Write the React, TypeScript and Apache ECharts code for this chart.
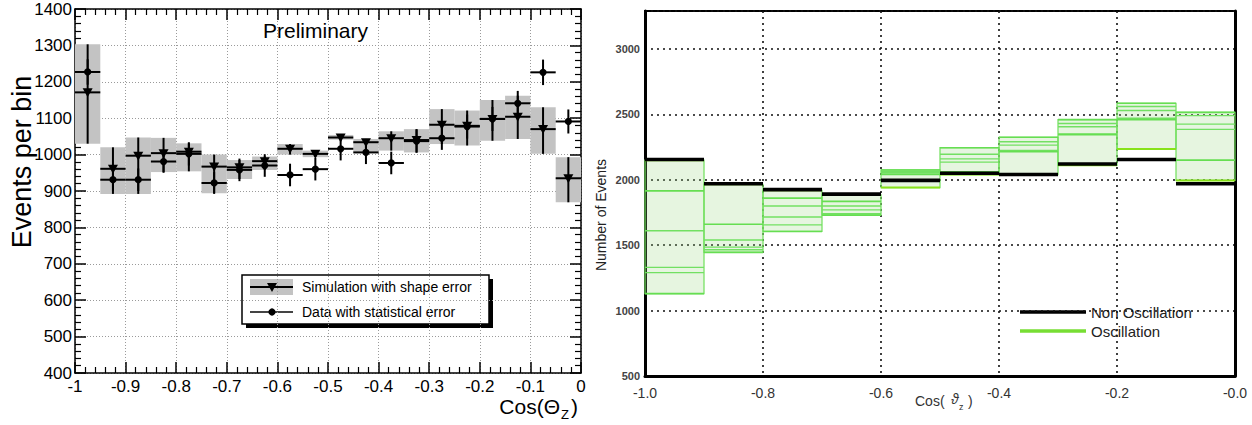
import React, { useEffect, useRef } from 'react';
import * as echarts from 'echarts';

const FONT = '"Liberation Sans", Arial, Helvetica, sans-serif';

// ---------------- Left panel data ----------------
const LEFT_BIN_START = [-1.0, -0.95, -0.9, -0.85, -0.8, -0.75, -0.7, -0.65, -0.6, -0.55, -0.5, -0.45, -0.4, -0.35, -0.3, -0.25, -0.2, -0.15, -0.1, -0.05];
const LEFT_BIN_WIDTH = 0.05;
const SIM_VALUE = [1171, 961, 997, 1004, 1008, 967, 965, 982, 1016, 1002, 1047, 1034, 1045, 1040, 1082, 1079, 1098, 1104, 1070, 935];
const SIM_LOW = [1030, 892, 892, 952, 954, 894, 933, 958, 1000, 993, 1041, 1006, 1011, 1006, 1029, 1025, 1038, 1043, 1002, 869];
const SIM_HIGH = [1303, 1020, 1047, 1046, 1031, 1000, 985, 995, 1029, 1011, 1054, 1043, 1064, 1070, 1125, 1121, 1150, 1162, 1130, 993];
const DATA_VALUE = [1227, 931, 931, 981, 1002, 922, 958, 970, 944, 960, 1016, 1006, 977, 1037, 1045, 1077, 1098, 1141, 1226, 1091];
const DATA_ERROR = [35, 31, 31, 31, 32, 30, 31, 31, 31, 31, 32, 32, 31, 32, 32, 33, 33, 34, 35, 33];
const LEFT_Y_TICKS = [400, 500, 600, 700, 800, 900, 1000, 1100, 1200, 1300, 1400];
const LEFT_X_TICKS = [-1, -0.9, -0.8, -0.7, -0.6, -0.5, -0.4, -0.3, -0.2, -0.1, 0];
const LEFT_X_LABELS = ['-1', '-0.9', '-0.8', '-0.7', '-0.6', '-0.5', '-0.4', '-0.3', '-0.2', '-0.1', '0'];

// ---------------- Right panel data ----------------
const RIGHT_BIN_START = [-1.0, -0.9, -0.8, -0.7, -0.6, -0.5, -0.4, -0.3, -0.2, -0.1];
const RIGHT_BIN_WIDTH = 0.1;
const NON_OSC = [2155, 1970, 1925, 1890, 1995, 2050, 2040, 2120, 2155, 1970];
const OSC_1 = [1915, 1660, 1860, 1835, 2075, 2245, 2325, 2460, 2585, 2515];
const OSC_2 = [1610, 1540, 1800, 1800, 2065, 2195, 2290, 2430, 2560, 2490];
const OSC_3 = [1330, 1485, 1715, 1770, 2055, 2160, 2265, 2405, 2530, 2425];
const OSC_4 = [1290, 1465, 1655, 1740, 2045, 2135, 2225, 2350, 2470, 2385];
const OSC_5 = [1130, 1445, 1605, 1730, 2040, 2060, 2215, 2345, 2460, 2150];
const OSC_BEST = [2150, 1965, 1920, 1885, 1940, 2040, 2040, 2110, 2235, 1995];
const RIGHT_Y_TICKS = [500, 1000, 1500, 2000, 2500, 3000];
const RIGHT_Y_MAX = 3290;
const RIGHT_X_TICKS = [-1.0, -0.8, -0.6, -0.4, -0.2, 0];
const RIGHT_X_LABELS = ['-1.0', '-0.8', '-0.6', '-0.4', '-0.2', '-0.0'];

const labelFor = (ticks: number[], labels: string[]) => (v: number) => {
  const i = ticks.findIndex((t) => Math.abs(t - v) < 1e-6);
  return i >= 0 ? labels[i] : '';
};

const seg = (api: any, x1: number, x2: number, y1: number, y2: number, style: any) => {
  const a = api.coord([x1, y1]);
  const b = api.coord([x2, y2]);
  return { type: 'line', shape: { x1: a[0], y1: a[1], x2: b[0], y2: b[1] }, style };
};

export default function App() {
  const ref = useRef<HTMLDivElement>(null);

  useEffect(() => {
    if (!ref.current) return;
    const chart = echarts.init(ref.current, undefined, { renderer: 'svg' });

    const leftRows = LEFT_BIN_START.map((s, i) => [s, s + LEFT_BIN_WIDTH, SIM_LOW[i], SIM_HIGH[i], SIM_VALUE[i], DATA_VALUE[i], DATA_ERROR[i]]);
    const oscAll = [OSC_1, OSC_2, OSC_3, OSC_4, OSC_5, OSC_BEST];
    const fillRows = RIGHT_BIN_START.map((s, i) => {
      const vals = oscAll.map((a) => a[i]);
      return [s, s + RIGHT_BIN_WIDTH, Math.min(...vals), Math.max(...vals)];
    });

    const leftXLabel = labelFor(LEFT_X_TICKS, LEFT_X_LABELS);
    const rightXLabel = labelFor(RIGHT_X_TICKS, RIGHT_X_LABELS);
    const leftYLabel = (v: number) => (LEFT_Y_TICKS.includes(Math.round(v)) ? String(Math.round(v)) : '');
    const rightYLabel = (v: number) => (RIGHT_Y_TICKS.includes(Math.round(v)) ? String(Math.round(v)) : '');

    const leftAxisLine = { show: true, onZero: false, lineStyle: { color: '#000', width: 1.5 } };
    const leftTick = { show: true, inside: true, length: 11, lineStyle: { color: '#000', width: 1.5 } };
    const leftMinor = { show: true, splitNumber: 5, length: 6, lineStyle: { color: '#000', width: 1.2 } };

    const oscSeries = (arr: number[], color: string, width: number, z: number) => ({
      type: 'custom',
      xAxisIndex: 2,
      yAxisIndex: 2,
      z,
      data: RIGHT_BIN_START.map((s, i) => [s, s + RIGHT_BIN_WIDTH, arr[i]]),
      renderItem: (_p: any, api: any) =>
        seg(api, api.value(0), api.value(1), api.value(2), api.value(2), { stroke: color, lineWidth: width }),
    });

    const option: any = {
      animation: false,
      backgroundColor: '#ffffff',
      textStyle: { fontFamily: FONT },
      grid: [
        { left: 75, top: 9, width: 506, height: 364, show: false },
        { left: 645, top: 11, width: 590, height: 365, show: true, borderColor: '#000', borderWidth: 2, backgroundColor: 'transparent' },
      ],
      xAxis: [
        {
          type: 'value', gridIndex: 0, min: LEFT_X_TICKS[0], max: LEFT_X_TICKS[LEFT_X_TICKS.length - 1], interval: 0.1, position: 'bottom',
          axisLine: leftAxisLine, axisTick: leftTick, minorTick: leftMinor,
          axisLabel: { fontSize: 17, lineHeight: 12, color: '#000', margin: 7, fontFamily: FONT, formatter: leftXLabel },
          splitLine: { show: true, lineStyle: { color: '#9a9a9a', type: [1, 2], width: 1 } },
        },
        {
          type: 'value', gridIndex: 0, min: LEFT_X_TICKS[0], max: LEFT_X_TICKS[LEFT_X_TICKS.length - 1], interval: 0.1, position: 'top',
          axisLine: leftAxisLine, axisTick: leftTick, minorTick: leftMinor,
          axisLabel: { show: false }, splitLine: { show: false },
        },
        {
          type: 'value', gridIndex: 1, min: RIGHT_X_TICKS[0], max: RIGHT_X_TICKS[RIGHT_X_TICKS.length - 1], interval: 0.2, position: 'bottom',
          axisLine: { show: true, onZero: false, lineStyle: { color: '#000', width: 3 } },
          axisTick: { show: false },
          axisLabel: { fontSize: 14, color: '#333', margin: 10, fontFamily: FONT, formatter: rightXLabel },
          splitLine: { show: true, lineStyle: { color: '#111', type: [2, 4], width: 1.6 } },
        },
      ],
      yAxis: [
        {
          type: 'value', gridIndex: 0, min: LEFT_Y_TICKS[0], max: LEFT_Y_TICKS[LEFT_Y_TICKS.length - 1], interval: 100, position: 'left',
          axisLine: leftAxisLine, axisTick: leftTick, minorTick: leftMinor,
          axisLabel: { fontSize: 17, lineHeight: 12, color: '#000', margin: 3, fontFamily: FONT, formatter: leftYLabel },
          splitLine: { show: true, lineStyle: { color: '#9a9a9a', type: [1, 2], width: 1 } },
        },
        {
          type: 'value', gridIndex: 0, min: LEFT_Y_TICKS[0], max: LEFT_Y_TICKS[LEFT_Y_TICKS.length - 1], interval: 100, position: 'right',
          axisLine: leftAxisLine, axisTick: leftTick, minorTick: leftMinor,
          axisLabel: { show: false }, splitLine: { show: false },
        },
        {
          type: 'value', gridIndex: 1, min: RIGHT_Y_TICKS[0], max: RIGHT_Y_MAX, interval: 500, position: 'left',
          axisLine: { show: true, onZero: false, lineStyle: { color: '#000', width: 3 } },
          axisTick: { show: false },
          axisLabel: { fontSize: 11, fontWeight: 'bold', color: '#444', margin: 5, fontFamily: FONT, formatter: rightYLabel },
          splitLine: { show: true, lineStyle: { color: '#111', type: [2, 4], width: 1.6 } },
        },
        {
          type: 'value', gridIndex: 1, min: RIGHT_Y_TICKS[0], max: RIGHT_Y_MAX, interval: 500, position: 'right',
          axisLine: { show: true, onZero: false, lineStyle: { color: '#000', width: 3 } },
          axisTick: { show: false }, axisLabel: { show: false }, splitLine: { show: false },
        },
      ],
      series: [
        // simulation shape-error boxes
        {
          type: 'custom', xAxisIndex: 0, yAxisIndex: 0, z: 2,
          data: leftRows,
          renderItem: (_p: any, api: any) => {
            const a = api.coord([api.value(0), api.value(3)]);
            const b = api.coord([api.value(1), api.value(2)]);
            return { type: 'rect', shape: { x: a[0], y: a[1], width: b[0] - a[0], height: b[1] - a[1] }, style: { fill: '#c3c3c3' } };
          },
        },
        // simulation central values
        {
          type: 'custom', xAxisIndex: 0, yAxisIndex: 0, z: 3,
          data: leftRows,
          renderItem: (_p: any, api: any) => {
            const x1 = api.value(0), x2 = api.value(1), c = (x1 + x2) / 2;
            const p = api.coord([c, api.value(4)]);
            return {
              type: 'group',
              children: [
                seg(api, x1, x2, api.value(4), api.value(4), { stroke: '#000', lineWidth: 2 }),
                seg(api, c, c, api.value(2), api.value(3), { stroke: '#000', lineWidth: 2 }),
                { type: 'polygon', shape: { points: [[p[0] - 5, p[1] - 4], [p[0] + 5, p[1] - 4], [p[0], p[1] + 5]] }, style: { fill: '#000' } },
              ],
            };
          },
        },
        // data with statistical errors
        {
          type: 'custom', xAxisIndex: 0, yAxisIndex: 0, z: 4,
          data: leftRows,
          renderItem: (_p: any, api: any) => {
            const x1 = api.value(0), x2 = api.value(1), c = (x1 + x2) / 2;
            const v = api.value(5), e = api.value(6);
            const p = api.coord([c, v]);
            return {
              type: 'group',
              children: [
                seg(api, x1, x2, v, v, { stroke: '#000', lineWidth: 2 }),
                seg(api, c, c, v - e, v + e, { stroke: '#000', lineWidth: 2 }),
                { type: 'circle', shape: { cx: p[0], cy: p[1], r: 3.6 }, style: { fill: '#000' } },
              ],
            };
          },
        },
        // oscillation envelope fill
        {
          type: 'custom', xAxisIndex: 2, yAxisIndex: 2, z: 2,
          data: fillRows,
          renderItem: (_p: any, api: any) => {
            const a = api.coord([api.value(0), api.value(3)]);
            const b = api.coord([api.value(1), api.value(2)]);
            return {
              type: 'rect',
              shape: { x: a[0], y: a[1], width: b[0] - a[0], height: b[1] - a[1] },
              style: { fill: 'rgba(150, 215, 125, 0.24)', stroke: '#6fe05a', lineWidth: 1.2 },
            };
          },
        },
        oscSeries(OSC_1, '#66de52', 1.6, 3),
        oscSeries(OSC_2, '#72e062', 1.4, 3),
        oscSeries(OSC_3, '#72e062', 1.4, 3),
        oscSeries(OSC_4, '#72e062', 1.4, 3),
        oscSeries(OSC_5, '#66de52', 1.6, 3),
        oscSeries(OSC_BEST, '#88e21a', 2, 4),
        oscSeries(NON_OSC, '#000000', 3.6, 5),
      ],
      graphic: [
        { type: 'text', left: 263, top: 20, style: { text: 'Preliminary', fill: '#000', font: `21px ${FONT}` } },
        { type: 'text', x: 22, y: 162, rotation: Math.PI / 2, style: { text: 'Events per bin', font: `27px ${FONT}`, fill: '#000', align: 'center', verticalAlign: 'middle' } },
        { type: 'text', x: 560, y: 406, style: { text: 'Cos(Θ', font: `21px ${FONT}`, fill: '#000', align: 'right', verticalAlign: 'middle' } },
        { type: 'text', x: 561, y: 414, style: { text: 'Z', font: `13px ${FONT}`, fill: '#000', align: 'left', verticalAlign: 'middle' } },
        { type: 'text', x: 571, y: 406, style: { text: ')', font: `21px ${FONT}`, fill: '#000', align: 'left', verticalAlign: 'middle' } },
        // left legend
        { type: 'rect', shape: { x: 246, y: 279, width: 247, height: 49 }, style: { fill: '#000' } },
        { type: 'rect', shape: { x: 242, y: 275, width: 247, height: 49 }, style: { fill: '#fff', stroke: '#000', lineWidth: 1.5 } },
        { type: 'rect', shape: { x: 250, y: 279, width: 43, height: 16 }, style: { fill: '#c3c3c3' } },
        { type: 'line', shape: { x1: 250, y1: 287, x2: 293, y2: 287 }, style: { stroke: '#000', lineWidth: 2 } },
        { type: 'polygon', shape: { points: [[267, 283], [277, 283], [272, 292]] }, style: { fill: '#000' } },
        { type: 'text', x: 302, y: 287, style: { text: 'Simulation with shape error', font: `14px ${FONT}`, fill: '#000', verticalAlign: 'middle' } },
        { type: 'line', shape: { x1: 250, y1: 312, x2: 293, y2: 312 }, style: { stroke: '#444', lineWidth: 2 } },
        { type: 'circle', shape: { cx: 272, cy: 312, r: 3.6 }, style: { fill: '#000' } },
        { type: 'text', x: 302, y: 312, style: { text: 'Data with statistical error', font: `14px ${FONT}`, fill: '#000', verticalAlign: 'middle' } },
        // right panel titles
        { type: 'text', x: 601, y: 215, rotation: Math.PI / 2, style: { text: 'Number of Events', font: `14px ${FONT}`, fill: '#222', align: 'center', verticalAlign: 'middle' } },
        { type: 'text', x: 915, y: 401, style: { text: 'Cos(', font: `14px ${FONT}`, fill: '#333', verticalAlign: 'middle' } },
        { type: 'text', x: 951, y: 399, style: { text: 'ϑ', font: `italic 14px ${FONT}`, fill: '#333', verticalAlign: 'middle' } },
        { type: 'text', x: 959, y: 407, style: { text: 'z', font: `9px ${FONT}`, fill: '#333', verticalAlign: 'middle' } },
        { type: 'text', x: 968, y: 401, style: { text: ')', font: `14px ${FONT}`, fill: '#333', verticalAlign: 'middle' } },
        // right legend
        { type: 'line', shape: { x1: 1020, y1: 312, x2: 1086, y2: 312 }, style: { stroke: '#000', lineWidth: 3.5 } },
        { type: 'text', x: 1091, y: 312, style: { text: 'Non Oscillation', font: `15px ${FONT}`, fill: '#222', verticalAlign: 'middle' } },
        { type: 'line', shape: { x1: 1020, y1: 331, x2: 1086, y2: 331 }, style: { stroke: '#77de33', lineWidth: 3.5 } },
        { type: 'text', x: 1091, y: 331, style: { text: 'Oscillation', font: `15px ${FONT}`, fill: '#222', verticalAlign: 'middle' } },
      ],
    };

    chart.setOption(option);
    return () => chart.dispose();
  }, []);

  return <div ref={ref} style={{ position: 'fixed', left: 0, top: 0, width: 1252, height: 425, background: '#fff' }} />;
}
